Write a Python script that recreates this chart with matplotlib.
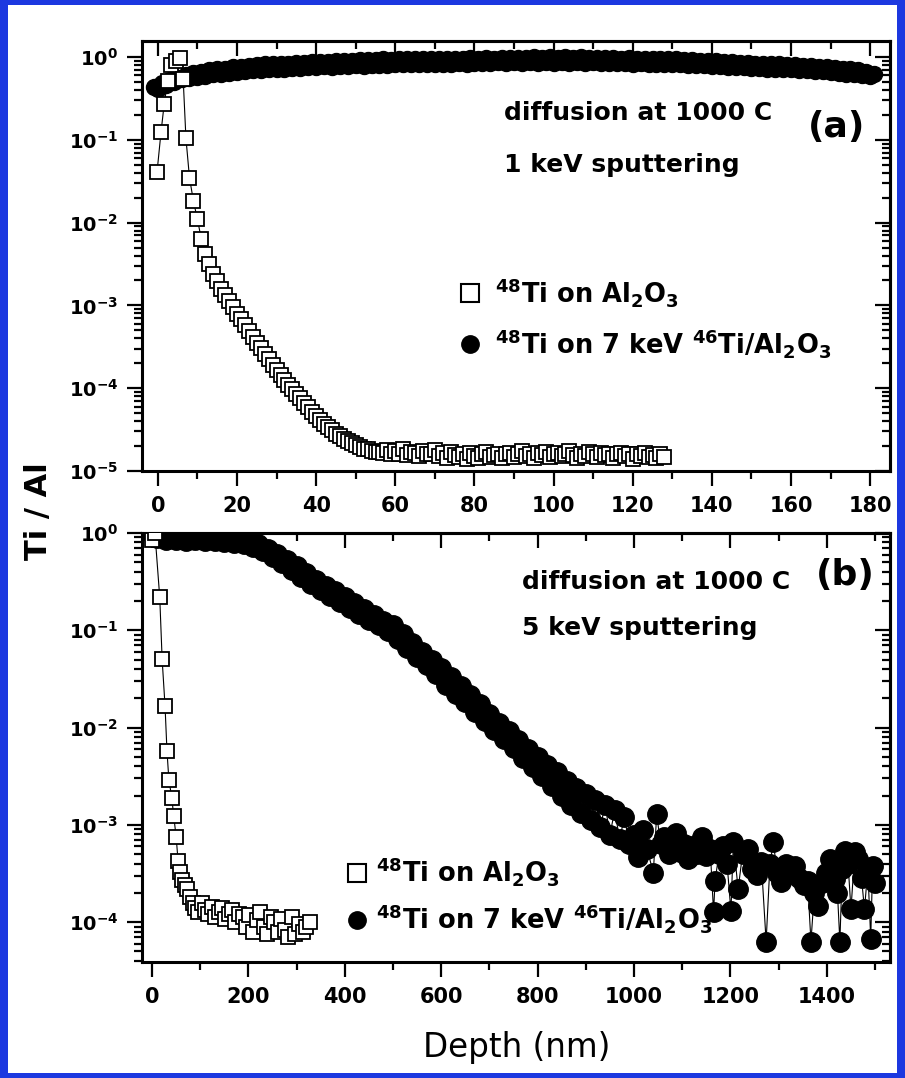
import matplotlib
matplotlib.use("Agg")
import matplotlib.pyplot as plt
from matplotlib.lines import Line2D
from matplotlib.patches import Rectangle
from matplotlib.ticker import MultipleLocator, LogLocator, NullFormatter, FuncFormatter
import numpy as np

plt.rcParams['font.family'] = ['DejaVu Sans']
plt.rcParams['mathtext.fontset'] = 'dejavusans'
plt.rcParams['mathtext.default'] = 'bf'

# ---------------- data (log10 of Ti/Al) ----------------
# (a) 48Ti on Al2O3, 1 keV sputtering
sq_a_depth = [-0.2, 0.8, 1.6, 2.5, 3.4, 4.5, 5.6, 6.4, 7.1,
              8, 9, 10, 11, 12, 13, 14, 15, 16, 17, 18, 19, 20, 21, 22, 23, 24, 25, 26, 27, 28,
              29, 30, 31, 32, 33, 34, 35, 36, 37, 38, 39, 40, 41, 42, 43, 44, 45, 46, 47, 48,
              49, 50, 51, 52, 53, 54, 55, 56, 57, 58, 59, 60, 61, 62, 63, 64, 65, 66, 67, 68,
              69, 70, 71, 72, 73, 74, 75, 76, 77, 78, 79, 80, 81, 82, 83, 84, 85, 86, 87, 88,
              89, 90, 91, 92, 93, 94, 95, 96, 97, 98, 99, 100, 101, 102, 103, 104, 105, 106, 107, 108,
              109, 110, 111, 112, 113, 114, 115, 116, 117, 118, 119, 120, 121, 122, 123, 124, 125, 126, 127, 128]
sq_a_log = [-1.39, -0.91, -0.57, -0.29, -0.10, -0.05, -0.01, -0.26, -0.98,
            -1.46, -1.74, -1.96, -2.20, -2.38, -2.50, -2.62, -2.71, -2.80, -2.87, -2.95,
            -3.02, -3.10, -3.17, -3.24, -3.31, -3.38, -3.45, -3.52, -3.59, -3.65,
            -3.72, -3.78, -3.84, -3.90, -3.96, -4.01, -4.07, -4.12, -4.18, -4.23,
            -4.29, -4.34, -4.38, -4.43, -4.47, -4.51, -4.55, -4.58, -4.61, -4.64,
            -4.66, -4.69, -4.71, -4.73, -4.74, -4.76, -4.77, -4.77, -4.78, -4.75,
            -4.80, -4.76, -4.79, -4.74, -4.81, -4.77, -4.78, -4.82, -4.76, -4.80,
            -4.79, -4.75, -4.82, -4.78, -4.84, -4.77, -4.81, -4.83, -4.79, -4.85,
            -4.78, -4.82, -4.84, -4.80, -4.77, -4.83, -4.81, -4.79, -4.84, -4.80,
            -4.78, -4.83, -4.80, -4.76, -4.82, -4.79, -4.84, -4.78, -4.81, -4.77,
            -4.83, -4.80, -4.78, -4.82, -4.79, -4.76, -4.81, -4.84, -4.79, -4.82,
            -4.77, -4.80, -4.83, -4.78, -4.81, -4.79, -4.84, -4.80, -4.78, -4.82,
            -4.80, -4.85, -4.79, -4.82, -4.78, -4.83, -4.81, -4.84, -4.80, -4.83]

# (a) 48Ti on 7 keV 46Ti/Al2O3, one point per nm from -1 to 181
ci_a_depth = list(range(-1, 182))
ci_a_log = [-0.36, -0.39, -0.32, -0.34, -0.28, -0.30, -0.25, -0.27, -0.22, -0.25,
            -0.19, -0.24, -0.18, -0.23, -0.16, -0.21, -0.15, -0.20, -0.14, -0.19,
            -0.12, -0.18, -0.12, -0.17, -0.11, -0.16, -0.10, -0.16, -0.09, -0.15,
            -0.09, -0.14, -0.08, -0.14, -0.08, -0.13, -0.07, -0.13, -0.07, -0.12,
            -0.06, -0.12, -0.06, -0.11, -0.06, -0.12, -0.05, -0.11, -0.05, -0.11,
            -0.05, -0.10, -0.04, -0.11, -0.04, -0.10, -0.04, -0.10, -0.03, -0.10,
            -0.04, -0.09, -0.03, -0.09, -0.03, -0.09, -0.03, -0.08, -0.03, -0.09,
            -0.02, -0.08, -0.03, -0.08, -0.02, -0.08, -0.02, -0.07, -0.02, -0.08,
            -0.01, -0.07, -0.02, -0.07, -0.01, -0.07, -0.02, -0.06, -0.01, -0.07,
            -0.01, -0.06, -0.01, -0.07, -0.01, -0.06, 0.00, -0.07, -0.01, -0.06,
            0.00, -0.07, -0.01, -0.06, 0.00, -0.07, -0.01, -0.06, 0.00, -0.07,
            -0.01, -0.06, -0.01, -0.07, -0.01, -0.07, -0.01, -0.07, -0.02, -0.07,
            -0.01, -0.08, -0.02, -0.07, -0.02, -0.08, -0.02, -0.08, -0.03, -0.08,
            -0.03, -0.09, -0.03, -0.09, -0.04, -0.10, -0.04, -0.10, -0.05, -0.10,
            -0.05, -0.11, -0.05, -0.11, -0.06, -0.12, -0.06, -0.12, -0.07, -0.12,
            -0.07, -0.13, -0.08, -0.13, -0.08, -0.14, -0.09, -0.14, -0.09, -0.14,
            -0.10, -0.15, -0.10, -0.16, -0.11, -0.16, -0.11, -0.17, -0.12, -0.17,
            -0.12, -0.18, -0.13, -0.19, -0.14, -0.20, -0.15, -0.21, -0.16, -0.22,
            -0.18, -0.23, -0.20]

# (b) 48Ti on Al2O3, 5 keV sputtering
sq_b_depth = [0, 6, 16, 21, 27, 31, 35, 41, 45, 50, 54, 58, 63, 68, 73, 79, 84, 90, 96,
              103, 110, 117, 124, 131, 138, 145, 152, 159, 166, 173, 180, 188, 195, 202,
              210, 217, 224, 232, 239, 246, 253, 261, 268, 275, 283, 290, 297, 305, 313,
              320, 327]
sq_b_log = [-0.07, 0.00, -0.66, -1.30, -1.78, -2.24, -2.54, -2.72, -2.91, -3.12, -3.37,
            -3.48, -3.57, -3.62, -3.66, -3.74, -3.80, -3.86, -3.90, -3.80, -3.88, -3.92,
            -3.84, -3.95, -3.90, -3.85, -3.97, -3.92, -3.88, -4.00, -3.92, -3.95, -4.05,
            -3.93, -4.10, -3.98, -3.90, -4.05, -4.12, -3.95, -4.00, -4.10, -3.97, -4.08,
            -4.15, -3.95, -4.12, -4.02, -4.10, -4.05, -4.00]

# (b) 48Ti on 7 keV 46Ti/Al2O3
ci_b_depth = list(range(0, 1000, 10)) + [
    1000, 1009, 1018, 1027, 1040, 1047, 1055, 1063, 1072, 1080, 1086, 1095, 1104, 1112,
    1120, 1130, 1140, 1150, 1158, 1165, 1168, 1176, 1185, 1193, 1201, 1206, 1216, 1225,
    1237, 1245, 1255, 1264, 1274, 1282, 1289, 1297, 1305, 1315, 1325, 1334, 1343, 1352,
    1360, 1367, 1374, 1381, 1390, 1398, 1406, 1412, 1417, 1422, 1427, 1432, 1437, 1444,
    1450, 1458, 1465, 1472, 1478, 1485, 1491, 1495, 1500]
ci_b_log = [-0.01, -0.05, -0.02, -0.07, -0.03, -0.07, -0.03, -0.08, -0.03, -0.07,
            -0.03, -0.08, -0.04, -0.08, -0.04, -0.09, -0.05, -0.10, -0.06, -0.11,
            -0.08, -0.14, -0.11, -0.18, -0.16, -0.25, -0.22, -0.31, -0.28, -0.38,
            -0.34, -0.45, -0.41, -0.52, -0.48, -0.59, -0.54, -0.65, -0.60, -0.71,
            -0.66, -0.77, -0.72, -0.83, -0.78, -0.89, -0.84, -0.95, -0.90, -1.01,
            -0.95, -1.09, -1.04, -1.18, -1.13, -1.27, -1.22, -1.36, -1.31, -1.45,
            -1.39, -1.56, -1.48, -1.65, -1.57, -1.74, -1.67, -1.84, -1.76, -1.93,
            -1.86, -2.03, -1.95, -2.12, -2.04, -2.21, -2.13, -2.31, -2.22, -2.41,
            -2.30, -2.50, -2.38, -2.60, -2.46, -2.70, -2.55, -2.80, -2.62, -2.88,
            -2.68, -2.95, -2.74, -3.02, -2.80, -3.10, -2.85, -3.15, -2.92, -3.20,
            -3.10, -3.33, -3.05, -3.25, -3.49, -2.89, -3.20, -3.12, -3.30, -3.15,
            -3.08, -3.28, -3.20, -3.35, -3.22, -3.30, -3.13, -3.32, -3.25, -3.90,
            -3.58, -3.30, -3.22, -3.40, -3.89, -3.18, -3.66, -3.30, -3.25, -3.45,
            -3.52, -3.38, -4.20, -3.40, -3.18, -3.50, -3.59, -3.40, -3.48, -3.42,
            -3.55, -3.62, -3.58, -4.20, -3.70, -3.83, -3.60, -3.50, -3.35, -3.48,
            -3.56, -3.70, -4.20, -3.45, -3.27, -3.40, -3.87, -3.28, -3.35, -3.55,
            -3.87, -3.46, -4.17, -3.42, -3.60]

label_sq = r'$^{48}$Ti on Al$_2$O$_3$'
label_ci = r'$^{48}$Ti on 7 keV $^{46}$Ti/Al$_2$O$_3$'

W, H = 905, 1078
fig = plt.figure(figsize=(W / 100, H / 100), dpi=100)
fig.patch.set_facecolor('#1c38e0')
fig.patches.append(Rectangle((8 / W, 5 / H), (W - 16) / W, (H - 10) / H,
                             transform=fig.transFigure, facecolor='white',
                             edgecolor='none', zorder=-5))

ax_a = fig.add_axes([142 / W, 1 - 471 / H, 748 / W, 430 / H])
ax_b = fig.add_axes([142 / W, 1 - 962 / H, 748 / W, 429 / H])
for ax in (ax_a, ax_b):
    ax.set_facecolor('none')


def log_label(v, pos):
    return r'$10^{%d}$' % int(round(np.log10(v)))


def style_axes(ax, xmaj, xmin, ylo, yhi, xlo, xhi, xlabsize):
    ax.set_yscale('log')
    ax.set_xlim(xlo, xhi)
    ax.set_ylim(ylo, yhi)
    ax.xaxis.set_major_locator(MultipleLocator(xmaj))
    ax.xaxis.set_minor_locator(MultipleLocator(xmin))
    ax.yaxis.set_major_locator(LogLocator(base=10, numticks=12))
    ax.yaxis.set_minor_locator(LogLocator(base=10, subs=np.arange(2, 10), numticks=12))
    ax.yaxis.set_major_formatter(FuncFormatter(log_label))
    ax.yaxis.set_minor_formatter(NullFormatter())
    for s in ax.spines.values():
        s.set_linewidth(2.2)
    ax.tick_params(which='both', direction='out', top=False, right=False, width=1.6)
    ax.tick_params(which='major', length=11)
    ax.tick_params(which='minor', length=6)
    ax.tick_params(axis='x', labelsize=xlabsize, pad=7)
    ax.tick_params(axis='y', labelsize=14, pad=6)
    for lab in ax.get_xticklabels() + ax.get_yticklabels():
        lab.set_fontweight('bold')
    # inward ticks on the top and right sides
    top = ax.secondary_xaxis('top')
    top.xaxis.set_major_locator(MultipleLocator(xmaj))
    top.xaxis.set_minor_locator(MultipleLocator(xmin))
    top.tick_params(which='both', direction='in', labeltop=False, width=1.6)
    top.tick_params(which='major', length=11)
    top.tick_params(which='minor', length=6)
    right = ax.secondary_yaxis('right')
    right.yaxis.set_major_locator(LogLocator(base=10, numticks=12))
    right.yaxis.set_minor_locator(LogLocator(base=10, subs=np.arange(2, 10), numticks=12))
    right.tick_params(which='both', direction='in', labelright=False, width=1.6)
    right.tick_params(which='major', length=11)
    right.tick_params(which='minor', length=6)
    for sec in (top, right):
        for s in sec.spines.values():
            s.set_linewidth(2.2)


# ---------------- panel (a) ----------------
ax_a.plot(ci_a_depth, 10 ** np.array(ci_a_log), '-', color='k', lw=0.8,
          marker='o', ms=11.5, mfc='k', mec='k', zorder=2)
ax_a.plot(sq_a_depth, 10 ** np.array(sq_a_log), '-', color='k', lw=0.8,
          marker='s', ms=9.5, mfc='white', mec='k', mew=1.3, zorder=3)
style_axes(ax_a, 20, 10, 1e-5, 10 ** 0.193, -4.0, 185.0, 15)

ax_a.text(0.484, 0.816, 'diffusion at 1000 C', transform=ax_a.transAxes,
          fontsize=18, fontweight='bold', va='baseline', ha='left')
ax_a.text(0.484, 0.695, '1 keV sputtering', transform=ax_a.transAxes,
          fontsize=18, fontweight='bold', va='baseline', ha='left')
ax_a.text(0.929, 0.799, '(a)', transform=ax_a.transAxes,
          fontsize=26, fontweight='bold', va='center', ha='center')

h_sq = Line2D([], [], ls='none', marker='s', ms=13, mfc='white', mec='k', mew=1.5)
h_ci = Line2D([], [], ls='none', marker='o', ms=12.5, mfc='k', mec='k')
ax_a.legend([h_sq, h_ci], [label_sq, label_ci], loc='center left',
            bbox_to_anchor=(0.421, 0.356), frameon=False, borderpad=0, borderaxespad=0,
            handlelength=1.0, handletextpad=0.47, labelspacing=0.7,
            prop={'weight': 'bold', 'size': 18.5})

# ---------------- panel (b) ----------------
ax_b.plot(ci_b_depth, 10 ** np.array(ci_b_log), '-', color='k', lw=0.8,
          marker='o', ms=14, mfc='k', mec='k', zorder=2)
ax_b.plot(sq_b_depth, 10 ** np.array(sq_b_log), '-', color='k', lw=0.8,
          marker='s', ms=9.5, mfc='white', mec='k', mew=1.3, zorder=3)
style_axes(ax_b, 200, 100, 10 ** -4.41, 1.0, -20.8, 1531, 15)

ax_b.text(0.508, 0.869, 'diffusion at 1000 C', transform=ax_b.transAxes,
          fontsize=18, fontweight='bold', va='baseline', ha='left')
ax_b.text(0.508, 0.762, '5 keV sputtering', transform=ax_b.transAxes,
          fontsize=18, fontweight='bold', va='baseline', ha='left')
ax_b.text(0.940, 0.903, '(b)', transform=ax_b.transAxes,
          fontsize=26, fontweight='bold', va='center', ha='center')

ax_b.legend([h_sq, h_ci], [label_sq, label_ci], loc='center left',
            bbox_to_anchor=(0.270, 0.156), frameon=False, borderpad=0, borderaxespad=0,
            handlelength=1.0, handletextpad=0.24, labelspacing=0.55,
            prop={'weight': 'bold', 'size': 18.5})

# shared labels
fig.text(38 / W, 1 - 511 / H, 'Ti / Al', rotation=90, fontsize=22,
         fontweight='bold', ha='center', va='center')
fig.text(517 / W, 1 - 1048 / H, 'Depth (nm)', fontsize=23.5,
         ha='center', va='center')

fig.savefig('out.png', dpi=100, facecolor=fig.get_facecolor())
